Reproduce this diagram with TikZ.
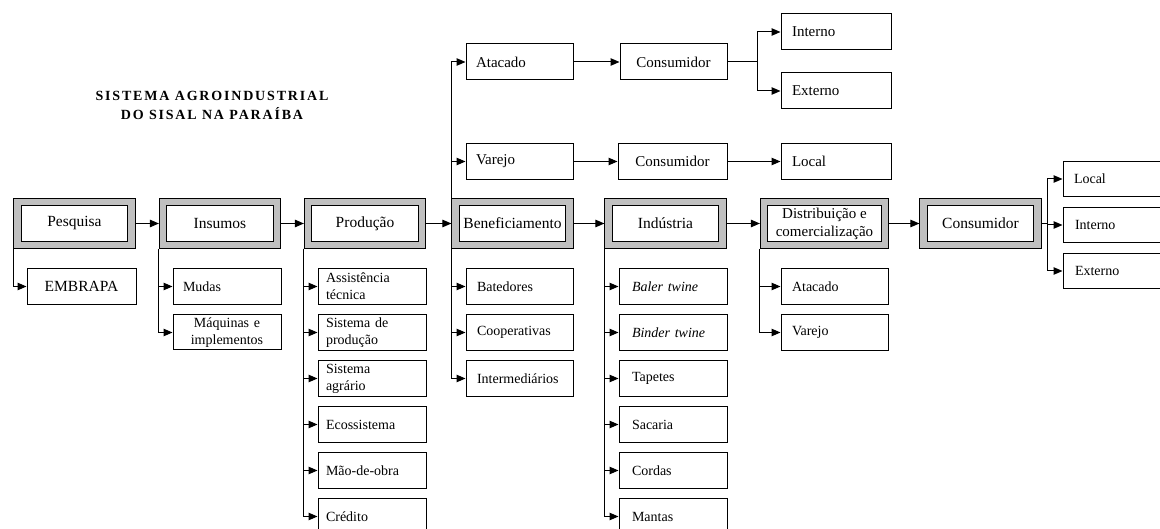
\documentclass[tikz,border=0pt]{standalone}
\usepackage{fontspec}
\setmainfont{Liberation Serif}
\usetikzlibrary{arrows.meta}
\definecolor{faixa}{RGB}{192,192,192}

\begin{document}
\begin{tikzpicture}[x=1pt,y=-1pt,
	etapa/.style={draw=black, line width=1pt, double=faixa, double distance=6.2pt, fill=white,
		minimum width=114pt, minimum height=42.8pt, inner sep=0pt, outer sep=4.1pt, align=center,
		font=\fontsize{15.5}{18}\selectfont},
	item/.style={draw=black, line width=1pt, fill=white, minimum height=36pt, inner xsep=10pt,
		inner ysep=0pt, text width=88pt, align=left, font=\fontsize{14}{17}\selectfont},
	itemc/.style={item, align=center},
	topo/.style={font=\fontsize{15}{18}\selectfont},
	ramo/.style={line width=1pt, -{Triangle[length=9pt,width=7.5pt]}}]
	
	\path[use as bounding box] (0,0) rectangle (1160,529);
	\clip (0,0) rectangle (1160,529);
	
	% titulo
	\node[font=\fontsize{14}{19}\selectfont\bfseries\addfontfeature{LetterSpace=13}, align=center] (titulo) at (212,105.5) {SISTEMA AGROINDUSTRIAL\\DO SISAL NA PARAÍBA};
	
	% cadeia principal
	\node[etapa] (pesq) at (74.5,223.5) {Pesquisa};
	\node[etapa] (insu) at (220,223.5) {Insumos};
	\node[etapa] (prod) at (365,223.5) {Produção};
	\node[etapa] (bene) at (512.5,223.5) {Beneficiamento};
	\node[etapa] (indu) at (665.5,223.5) {Indústria};
	\node[etapa, minimum width=121pt, font=\fontsize{15}{18}\selectfont] (dist) at (824.5,223.5) {Distribuição e\\comercialização};
	\node[etapa] (cons) at (980.5,223.5) {Consumidor};
	
	\draw[ramo] (pesq) -- (insu);
	\draw[ramo] (insu) -- (prod);
	\draw[ramo] (prod) -- (bene);
	\draw[ramo] (bene) -- (indu);
	\draw[ramo] (indu) -- (dist);
	\draw[ramo] (dist) -- (cons);
	
	% pesquisa e insumos
	\node[itemc, text width=89pt, font=\fontsize{15.5}{18}\selectfont] (embr) at (81.5,286.5) {EMBRAPA};
	\node[item] (muda) at (227,286.5) {Mudas};
	\node[itemc, minimum height=35pt] (maqu) at (227,332.5) {Máquinas e\\implementos};
	\draw[ramo] (pesq.south west) |- (embr);
	\draw[ramo] (insu.south west) |- (muda);
	\draw[ramo] (insu.south west) |- (maqu);
	
	% producao
	\foreach \txt [count=\i] in {{Assistência\\técnica},{Sistema de\\produção},{Sistema\\agrário},Ecossistema,Mão-de-obra,Crédito}{
		\node[item, inner xsep=8pt, text width=92pt] (prod\i) at (372,240.5+46*\i) {\txt};
		\draw[ramo] (prod.south west) |- (prod\i);
	}
	
	% beneficiamento
	\foreach \txt [count=\i] in {Batedores,Cooperativas,Intermediários}{
		\node[item, inner xsep=11pt, text width=85pt] (bene\i) at (519.5,240.5+46*\i) {\txt};
		\draw[ramo] (bene.south west) |- (bene\i);
	}
	
	% industria
	\foreach \txt [count=\i] in {{\itshape Baler twine},{\itshape Binder twine},Tapetes,Sacaria,Cordas,Mantas}{
		\node[item, inner xsep=13pt, text width=82pt] (indu\i) at (673,240.5+46*\i) {\txt};
		\draw[ramo] (indu.south west) |- (indu\i);
	}
	
	% distribuicao
	\foreach \txt [count=\i] in {Atacado,Varejo}{
		\node[item, inner xsep=11pt, text width=85pt] (dist\i) at (834.5,240.5+46*\i) {\txt};
		\draw[ramo] (dist.south west) |- (dist\i);
	}
	
	% ramo superior do beneficiamento
	\node[item, topo, text width=87pt] (atac) at (519.5,62) {Atacado};
	\node[item, topo, text width=87pt] (vare) at (519.5,161.5) {Varejo};
	\node[itemc, topo, text width=87pt] (cons1) at (673.5,62) {Consumidor};
	\node[itemc, topo, text width=89pt] (cons2) at (672.5,161.5) {Consumidor};
	\node[item, topo, inner xsep=11pt] (inte) at (836,32) {Interno};
	\node[item, topo, inner xsep=11pt] (exte) at (836,91) {Externo};
	\node[item, topo, inner xsep=11pt] (loca) at (836,161.5) {Local};
	
	\draw[ramo] (bene.north west) |- (atac);
	\draw[ramo] (bene.north west) |- (vare);
	\draw[ramo] (atac) -- (cons1);
	\draw[ramo] (vare) -- (cons2);
	\draw[ramo] (cons1.east) -- ++(30,0) |- (inte);
	\draw[ramo] (cons1.east) -- ++(30,0) |- (exte);
	\draw[ramo] (cons2) -- (loca);
	
	% consumidor final
	\node[item, minimum height=34.5pt, inner xsep=11pt, text width=86pt] (rloc) at (1117,179) {Local};
	\node[item, minimum height=34.5pt, inner xsep=12pt, text width=84pt] (rint) at (1117,225) {Interno};
	\node[item, minimum height=34.5pt, inner xsep=12pt, text width=84pt] (rext) at (1117,271) {Externo};
	\draw[ramo] (cons.east) -- ++(6,0) |- (rloc);
	\draw[ramo] (cons.east) -- ++(6,0) |- (rint);
	\draw[ramo] (cons.east) -- ++(6,0) |- (rext);
	
\end{tikzpicture}
\end{document}
